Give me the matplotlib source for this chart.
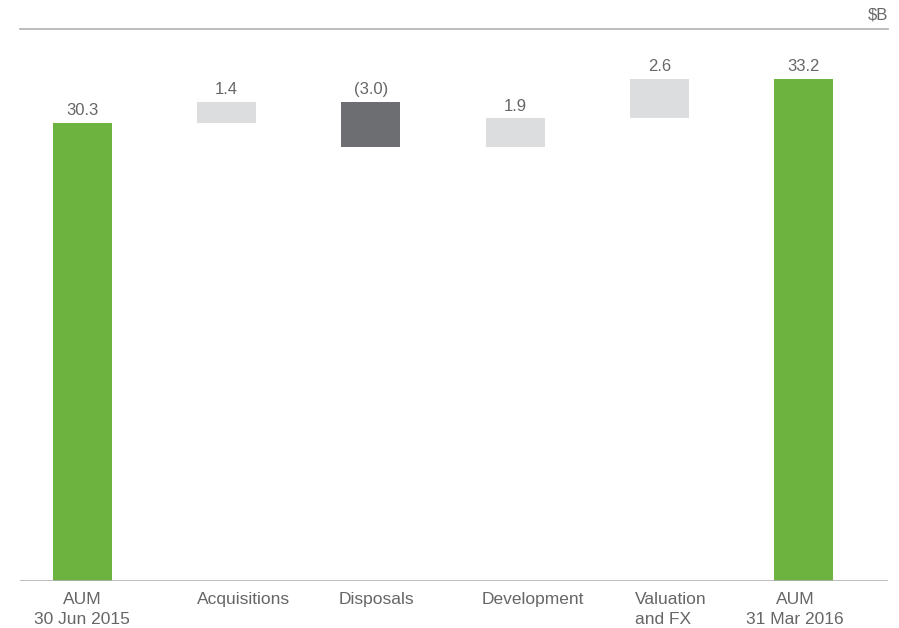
import matplotlib.pyplot as plt

plt.rcParams['font.family'] = ['Liberation Sans', 'DejaVu Sans']

categories = ['AUM\n30 Jun 2015', 'Acquisitions', 'Disposals', 'Development',
              'Valuation\nand FX', 'AUM\n31 Mar 2016']
values = [30.3, 1.4, -3.0, 1.9, 2.6, 33.2]
value_labels = ['30.3', '1.4', '(3.0)', '1.9', '2.6', '33.2']
kinds = ['total', 'up', 'down', 'up', 'up', 'total']

colors = {'total': '#6db33f', 'up': '#dcdddf', 'down': '#6d6e71'}
text_color = '#666666'
line_color = '#b0b0b0'

# label nudges (in bar units) to sit like the original
label_dx = [0.0, 0.12, 0.04, 0.12, -0.17, -0.06]
label_ha = ['center', 'center', 'center', 'center', 'left', 'center']

fig = plt.figure(figsize=(8.99, 6.28), dpi=100)
ax = fig.add_axes([0.0222, 0.0748, 0.9656, 0.879])

running = 0.0
for i, (v, k) in enumerate(zip(values, kinds)):
    if k == 'total':
        bottom, height = 0, v
        running = v
    else:
        bottom = running if v > 0 else running + v
        height = abs(v)
        running += v
    ax.bar(i, height, bottom=bottom, width=0.41, color=colors[k], zorder=2)
    ax.text(i, bottom + height + 0.3, value_labels[i], ha='center', va='bottom',
            fontsize=12, color=text_color)

for i, c in enumerate(categories):
    x = i + label_dx[i]
    ax.text(x, -0.75, c, ha=label_ha[i], va='top', fontsize=12.5,
            color=text_color, linespacing=1.4, multialignment=label_ha[i])

ax.set_xlim(-0.433, 5.586)
ax.set_ylim(0, 36.5)
ax.axhline(0, color=line_color, linewidth=1.2, zorder=3)
ax.axhline(36.5, color=line_color, linewidth=1.2, clip_on=False)
ax.set_xticks([])
ax.set_yticks([])
for s in ax.spines.values():
    s.set_visible(False)

ax.text(1.0, 1.012, '$B', transform=ax.transAxes, ha='right', va='bottom',
        fontsize=12, color=text_color)

fig.savefig('out.png', dpi=100)
